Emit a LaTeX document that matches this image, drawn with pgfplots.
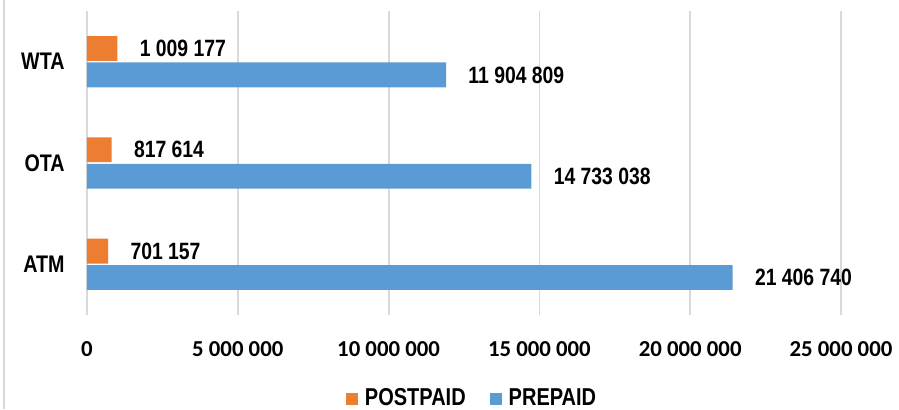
\documentclass[border=0pt]{standalone}
\usepackage{pgfplots}
\pgfplotsset{compat=1.18}
\usepackage{fontspec}
\setmainfont{Liberation Sans}
\newfontfamily\narrowfont{Liberation Sans}[FakeStretch=0.82]
\newfontfamily\tickfont{Carlito}
\definecolor{cOrange}{HTML}{ED7D31}
\definecolor{cBlue}{HTML}{5B9BD5}
\definecolor{cGrid}{HTML}{D9D9D9}
\pgfplotsset{sqlegend/.style={legend image code/.code={\fill[##1] (0pt,-3pt) rectangle (6pt,3pt);}}}
\begin{document}
\begin{tikzpicture}
\path[use as bounding box] (-43.5pt,-47pt) rectangle (406pt,157.5pt);
\draw[cGrid, line width=0.6pt] (-41.5pt,-47pt) -- (-41.5pt,157.5pt);
\begin{axis}[
  at={(0,0)}, anchor=south west,
  scale only axis, width=377pt, height=152pt,
  xmin=0, xmax=25000000, ymin=-0.5, ymax=2.5,
  ytick={0,1,2}, yticklabels={ATM,OTA,WTA},
  xtick={0,5000000,10000000,15000000,20000000,25000000},
  xticklabels={0,5 000 000,10 000 000,15 000 000,20 000 000,25 000 000},
  scaled x ticks=false,
  xmajorgrids, ymajorgrids=false,
  grid style={cGrid, line width=0.9pt},
  axis line style={draw=none}, major tick length=0pt,
  xticklabel style={font=\tickfont\bfseries\fontsize{11.4}{12}\selectfont, anchor=center, yshift=-17pt},
  yticklabel style={font=\narrowfont\bfseries\fontsize{12}{12}\selectfont, anchor=east, inner sep=0pt, xshift=-11pt},
  xbar, bar width=12.4pt,
  point meta=explicit symbolic,
  nodes near coords,
  every node near coord/.append style={font=\narrowfont\bfseries\fontsize{11.8}{12}\selectfont, anchor=west, inner sep=0pt, xshift=11pt, text=black},
  legend style={at={(0.512,-0.276)}, anchor=center, draw=none, fill=none,
    font=\narrowfont\bfseries\fontsize{12.2}{12}\selectfont,
    legend columns=2,
    /tikz/every odd column/.append style={column sep=1.5pt},
    /tikz/every even column/.append style={column sep=10pt}},
]
\addplot[fill=cOrange, draw=none, bar shift=6.6pt, sqlegend] coordinates {
  (701157,0) [701 157]
  (817614,1) [817 614]
  (1009177,2) [1 009 177]
};
\addlegendentry{POSTPAID}
\addplot[fill=cBlue, draw=none, bar shift=-6.6pt, sqlegend] coordinates {
  (21406740,0) [21 406 740]
  (14733038,1) [14 733 038]
  (11904809,2) [11 904 809]
};
\addlegendentry{PREPAID}
\end{axis}
\end{tikzpicture}
\end{document}
